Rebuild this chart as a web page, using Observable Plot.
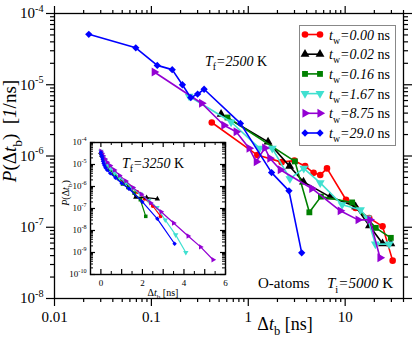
<!DOCTYPE html>
<html><head><meta charset="utf-8">
<script src="https://cdn.jsdelivr.net/npm/d3@7"></script>
<script src="https://cdn.jsdelivr.net/npm/@observablehq/plot@0.6"></script>
<style>
body{margin:0;background:#fff;}
#wrap{position:relative;width:415px;height:340px;overflow:hidden;background:#fff;}
#inset{position:absolute;left:55px;top:135px;}
svg text{white-space:pre;}
</style></head><body><div id="wrap"><div id="main"></div><div id="inset"></div></div>
<script>
const FONT = '"Liberation Serif","Times New Roman",serif';

// ---- series definitions ----
const waitingTimes = ["0.00", "0.02", "0.16", "1.67", "8.75", "29.0"];
const seriesColors = ["#ff0000", "#000000", "#008000", "#40e0d0", "#9400d3", "#0000ff"];
const seriesSymbols = ["circle", "triangle", "square", "triangle", "triangle", "diamond2"];
const seriesRotate = [0, 0, 0, 180, 90, 0];

// ---- main panel data (Δt_b in ns, P in 1/ns) ----
const dt_000 = [0.42, 1.24, 2.21, 2.99, 3.86, 4.72, 5.53, 6.49, 10.2, 12.8, 17.7, 24.3, 30.9];
const p_000  = [2.95e-6, 1.03e-6, 8.2e-7, 8.6e-7, 7.2e-7, 5.8e-7, 5.4e-7, 6.7e-7, 2.43e-7, 1.86e-7, 1.35e-7, 1.03e-7, 3.4e-8];
const dt_002 = [0.524, 1.6, 2.67, 3.71, 6.98, 12.8, 17.8, 24.3, 29.6];
const p_002  = [3.87e-6, 1.58e-6, 7.2e-7, 4.33e-7, 2.67e-7, 1.95e-7, 1.05e-7, 5.9e-8, 5.9e-8];
const dt_016 = [0.61, 3.03, 4.27, 5.62, 11.8, 20.7, 29.6];
const p_016  = [3.47e-6, 8.4e-7, 1.62e-7, 2.69e-7, 2.23e-7, 9.8e-8, 7.1e-8];
const dt_167 = [0.245, 0.665, 1.31, 1.77, 2.69, 3.74, 5.53, 9.3, 14.4, 17.0, 20.5, 28.5];
const p_167  = [6.9e-6, 3.0e-6, 1.28e-6, 1.28e-6, 4.8e-7, 6.7e-7, 4.2e-7, 2.07e-7, 1.76e-7, 1.35e-7, 5.8e-8, 5.8e-8];
const dt_875 = [0.107, 0.33, 0.56, 0.75, 1.02, 1.21, 1.48, 1.67, 2.14, 4.53, 8.9, 13.6, 18.0, 22.9];
const p_875  = [1.51e-5, 5.5e-6, 2.7e-6, 2.19e-6, 1.28e-6, 8.3e-7, 1.3e-6, 9.3e-7, 6.4e-7, 3.5e-7, 1.7e-7, 1.27e-7, 1.27e-7, 3.74e-8];
const dt_290 = [0.0226, 0.069, 0.115, 0.164, 0.209, 0.255, 0.30, 0.35, 0.83, 1.74, 2.63, 3.56];
const p_290  = [5.1e-5, 3.3e-5, 1.87e-5, 1.63e-5, 1.0e-5, 6.6e-6, 7.4e-6, 8.65e-6, 2.87e-6, 5.85e-7, 3.24e-7, 4.37e-8];

// ---- inset data (T_f = 3250 K) ----
const in_dt_000 = [0, 0.05, 0.12, 0.2, 0.3, 0.45, 0.63, 0.85, 1.1, 1.4, 1.75, 2.1, 2.5, 2.88];
const in_p_000  = [3.2e-5, 2.5e-5, 1.8e-5, 1.26e-5, 8.9e-6, 6.3e-6, 4e-6, 2.5e-6, 1.6e-6, 1e-6, 5.6e-7, 2.8e-7, 1.3e-7, 4.4e-8];
const in_dt_002 = [0, 0.05, 0.12, 0.2, 0.3, 0.45, 0.65, 0.9, 1.2, 1.45, 1.68, 2.2, 2.72];
const in_p_002  = [3.5e-5, 2.6e-5, 1.9e-5, 1.3e-5, 9e-6, 6e-6, 3.8e-6, 2.4e-6, 1.4e-6, 8e-7, 3.3e-7, 3.1e-7, 2.75e-7];
const in_dt_016 = [0, 0.05, 0.12, 0.2, 0.3, 0.45, 0.65, 0.85, 1.04, 1.3, 1.6, 1.9, 2.16];
const in_p_016  = [3.3e-5, 2.5e-5, 1.8e-5, 1.3e-5, 9e-6, 6e-6, 3.6e-6, 2.3e-6, 1.3e-6, 9e-7, 5e-7, 2.5e-7, 4.4e-8];
const in_dt_167 = [0, 0.05, 0.12, 0.2, 0.3, 0.45, 0.65, 0.9, 1.2, 1.5, 1.9, 2.3, 2.7, 3.1, 3.6, 4.09];
const in_p_167  = [4e-5, 3e-5, 2.1e-5, 1.5e-5, 1e-5, 6.8e-6, 4.2e-6, 2.5e-6, 1.5e-6, 8.5e-7, 4.5e-7, 2.3e-7, 1.1e-7, 3e-8, 6.3e-9, 1e-9];
const in_dt_875 = [0, 0.05, 0.1, 0.2, 0.3, 0.45, 0.65, 0.9, 1.2, 1.55, 1.95, 2.4, 2.9, 3.5, 4.2, 4.8, 5.4];
const in_p_875  = [4e-5, 3.2e-5, 2.5e-5, 1.8e-5, 1.26e-5, 8.9e-6, 5.6e-6, 3.2e-6, 1.8e-6, 8.9e-7, 4.5e-7, 1.8e-7, 7.1e-8, 2.2e-8, 5.6e-9, 1.8e-9, 4.7e-10];
const in_dt_290 = [0, 0.02, 0.04, 0.06, 0.08, 0.1, 0.13, 0.17, 0.22, 0.3, 0.45, 0.7, 1.0, 1.35, 2.0, 2.72, 3.55];
const in_p_290  = [3.5e-5, 2.8e-5, 2.5e-5, 2.2e-5, 1.8e-5, 1.4e-5, 1.1e-5, 8.9e-6, 7.1e-6, 5.6e-6, 4e-6, 2.5e-6, 1.4e-6, 7.9e-7, 2e-7, 3.4e-8, 2.5e-9];

// ---- ticks ----
const xMajor = [0.01, 0.1, 1, 10];
const xMinor = [0.02,0.03,0.04,0.05,0.06,0.07,0.08,0.09,0.2,0.3,0.4,0.5,0.6,0.7,0.8,0.9,2,3,4,5,6,7,8,9,20,30,40];
const yMajor = [1e-8, 1e-7, 1e-6, 1e-5, 1e-4];
const yMinor = [-8,-7,-6,-5].flatMap(e => [2,3,4,5,6,7,8,9].map(k => +(k + "e" + e)));
const inXMajor = [0, 1, 2, 3, 4, 5, 6];
const inXMinor = [0.5, 1.5, 2.5, 3.5, 4.5, 5.5];
const inXLabels = [0, 2, 4, 6];
const inYMajor = [1e-10, 1e-9, 1e-8, 1e-7, 1e-6, 1e-5, 1e-4];
const inYMinor = [-10,-9,-8,-7,-6,-5].flatMap(e => [2,3,4,5,6,7,8,9].map(k => +(k + "e" + e)));

const mainSets = [[dt_000,p_000],[dt_002,p_002],[dt_016,p_016],[dt_167,p_167],[dt_875,p_875],[dt_290,p_290]];
const insetSets = [[in_dt_000,in_p_000],[in_dt_002,in_p_002],[in_dt_016,in_p_016],[in_dt_167,in_p_167],[in_dt_875,in_p_875],[in_dt_290,in_p_290]];
const toRows = ([xs, ys]) => xs.map((x, i) => ({x, y: ys[i]}));
const powLabel = d => "10^" + Math.round(Math.log10(d));

function seriesMarks(sets, lw, r) {
  return sets.flatMap((s, i) => {
    const rows = toRows(s);
    return [
      Plot.line(rows, {x: "x", y: "y", stroke: seriesColors[i], strokeWidth: lw}),
      Plot.dot(rows, {x: "x", y: "y", symbol: seriesSymbols[i], rotate: seriesRotate[i], r, fill: seriesColors[i], stroke: "none"})
    ];
  });
}

function supify(svg, fs) {
  d3.select(svg).selectAll("text").each(function() {
    const m = /^10\^(-?\d+)$/.exec(this.textContent);
    if (!m) return;
    const sel = d3.select(this);
    sel.text(null);
    sel.append("tspan").text("10");
    sel.append("tspan").attr("dy", -fs * 0.45).attr("font-size", fs * 0.68).text(m[1]);
  });
}

function rich(g, x, y, parts, size, anchor = "start", rotate = 0) {
  const t = g.append("text").attr("x", x).attr("y", y).attr("font-size", size)
    .attr("text-anchor", anchor).attr("font-family", FONT).attr("fill", "black");
  if (rotate) t.attr("transform", `rotate(${rotate},${x},${y})`);
  let shift = 0;
  for (const p of parts) {
    const target = p.sub ? size * 0.3 : p.sup ? -size * 0.45 : 0;
    const ts = t.append("tspan").attr("dy", target - shift).text(p.t);
    if (p.sub || p.sup) ts.attr("font-size", size * 0.7);
    if (p.i) ts.attr("font-style", "italic");
    shift = target;
  }
  return t;
}

// ---- main plot ----
const main = Plot.plot({
  width: 415, height: 340,
  marginLeft: 54, marginRight: 12, marginTop: 13, marginBottom: 42,
  style: {fontFamily: FONT, fontSize: "15px", background: "transparent", color: "black"},
  x: {type: "log", domain: [0.01, 40]},
  y: {type: "log", domain: [1e-8, 1e-4]},
  marks: [
    ...seriesMarks(mainSets, 1.6, 3.3),
    Plot.axisX({anchor: "bottom", ticks: xMinor, tickSize: 4, tickFormat: () => "", label: null, strokeWidth: 1.2}),
    Plot.axisX({anchor: "bottom", ticks: xMajor, tickSize: 8, tickPadding: 5, tickFormat: d => String(d), label: null, strokeWidth: 1.2}),
    Plot.axisX({anchor: "top", ticks: xMinor, tickSize: 4, tickFormat: () => "", label: null, strokeWidth: 1.2}),
    Plot.axisX({anchor: "top", ticks: xMajor, tickSize: 8, tickFormat: () => "", label: null, strokeWidth: 1.2}),
    Plot.axisY({anchor: "left", ticks: yMinor, tickSize: 4, tickFormat: () => "", label: null, strokeWidth: 1.2}),
    Plot.axisY({anchor: "left", ticks: yMajor, tickSize: 8, tickPadding: 3, tickFormat: powLabel, label: null, strokeWidth: 1.2}),
    Plot.axisY({anchor: "right", ticks: yMinor, tickSize: 4, tickFormat: () => "", label: null, strokeWidth: 1.2}),
    Plot.axisY({anchor: "right", ticks: yMajor, tickSize: 8, tickFormat: () => "", label: null, strokeWidth: 1.2}),
    Plot.frame({stroke: "black", strokeWidth: 1.3})
  ]
});
document.getElementById("main").appendChild(main);
supify(main, 15);
const mg = d3.select(main).append("g");
rich(mg, 285, 330, [{t: "Δ"}, {t: "t", i: 1}, {t: "b", sub: 1}, {t: " [ns]"}], 18, "middle");
rich(mg, 16, 131, [{t: "P", i: 1}, {t: "(Δ"}, {t: "t", i: 1}, {t: "b", sub: 1}, {t: ")  ["}, {t: "1", i: 1}, {t: "/ns]"}], 19, "middle", -90);
rich(mg, 205, 66, [{t: "T", i: 1}, {t: "f", sub: 1}, {t: "=2500", i: 1}, {t: " K"}], 14);
rich(mg, 258, 288, [{t: "O-atoms"}], 15);
rich(mg, 327, 288, [{t: "T", i: 1}, {t: "i", sub: 1}, {t: "=5000", i: 1}, {t: " K"}], 15);

// legend
const lg = mg.append("g");
lg.append("rect").attr("x", 299.5).attr("y", 25.5).attr("width", 96).attr("height", 120)
  .attr("fill", "white").attr("stroke", "#888").attr("stroke-width", 1);
const symMap = {circle: d3.symbolCircle, triangle: d3.symbolTriangle, square: d3.symbolSquare, diamond2: d3.symbolDiamond2};
waitingTimes.forEach((tw, i) => {
  const cy = 34.5 + 19.7 * i;
  lg.append("line").attr("x1", 305).attr("x2", 320).attr("y1", cy).attr("y2", cy)
    .attr("stroke", seriesColors[i]).attr("stroke-width", 1.6);
  [305, 320].forEach(cx => {
    lg.append("path").attr("d", d3.symbol(symMap[seriesSymbols[i]], Math.PI * 3.3 * 3.3)())
      .attr("transform", `translate(${cx},${cy}) rotate(${seriesRotate[i]})`).attr("fill", seriesColors[i]);
  });
  rich(lg, 329, cy + 5, [{t: "t", i: 1}, {t: "w", sub: 1}, {t: "=" + tw, i: 1}, {t: " ns"}], 14);
});

// ---- inset plot ----
const IW = 180, IH = 172, IL = 35, IR = 10, IT = 7, IB = 33;
const innerW = IW - IL - IR, innerH = IH - IT - IB;
const inset = Plot.plot({
  width: IW, height: IH,
  marginLeft: IL, marginRight: IR, marginTop: IT, marginBottom: IB,
  style: {fontFamily: FONT, fontSize: "9px", background: "transparent", color: "black"},
  x: {domain: [-0.5, 6]},
  y: {type: "log", domain: [1e-10, 1e-4]},
  marks: [
    Plot.frame({fill: "white", stroke: "none"}),
    ...seriesMarks(insetSets, 1.2, 2),
    Plot.tickX(inXMajor, {x: d => d, insetTop: innerH - 5, strokeWidth: 1.2}),
    Plot.tickX(inXMajor, {x: d => d, insetBottom: innerH - 5, strokeWidth: 1.2}),
    Plot.tickX(inXMinor, {x: d => d, insetTop: innerH - 3, strokeWidth: 1}),
    Plot.tickX(inXMinor, {x: d => d, insetBottom: innerH - 3, strokeWidth: 1}),
    Plot.tickY(inYMajor, {y: d => d, insetRight: innerW - 5, strokeWidth: 1.2}),
    Plot.tickY(inYMajor, {y: d => d, insetLeft: innerW - 5, strokeWidth: 1.2}),
    Plot.tickY(inYMinor, {y: d => d, insetRight: innerW - 3, strokeWidth: 1}),
    Plot.tickY(inYMinor, {y: d => d, insetLeft: innerW - 3, strokeWidth: 1}),
    Plot.axisX({anchor: "bottom", ticks: inXLabels, tickSize: 0, tickPadding: 5, tickFormat: d => String(d), label: null}),
    Plot.axisY({anchor: "left", ticks: inYMajor, tickSize: 0, tickPadding: 4, tickFormat: powLabel, label: null}),
    Plot.frame({stroke: "black", strokeWidth: 1.4})
  ]
});
document.getElementById("inset").appendChild(inset);
supify(inset, 9);
const ig = d3.select(inset).append("g");
rich(ig, 108, 161, [{t: "Δ"}, {t: "t", i: 1}, {t: "b", sub: 1}, {t: " [ns]"}], 10, "middle");
rich(ig, 14, 58, [{t: "P", i: 1}, {t: "(Δ"}, {t: "t", i: 1}, {t: "b", sub: 1}, {t: ")"}], 10, "middle", -90);
rich(ig, 67, 33, [{t: "T", i: 1}, {t: "f", sub: 1}, {t: "=3250", i: 1}, {t: " K"}], 14);
</script>
</body></html>
